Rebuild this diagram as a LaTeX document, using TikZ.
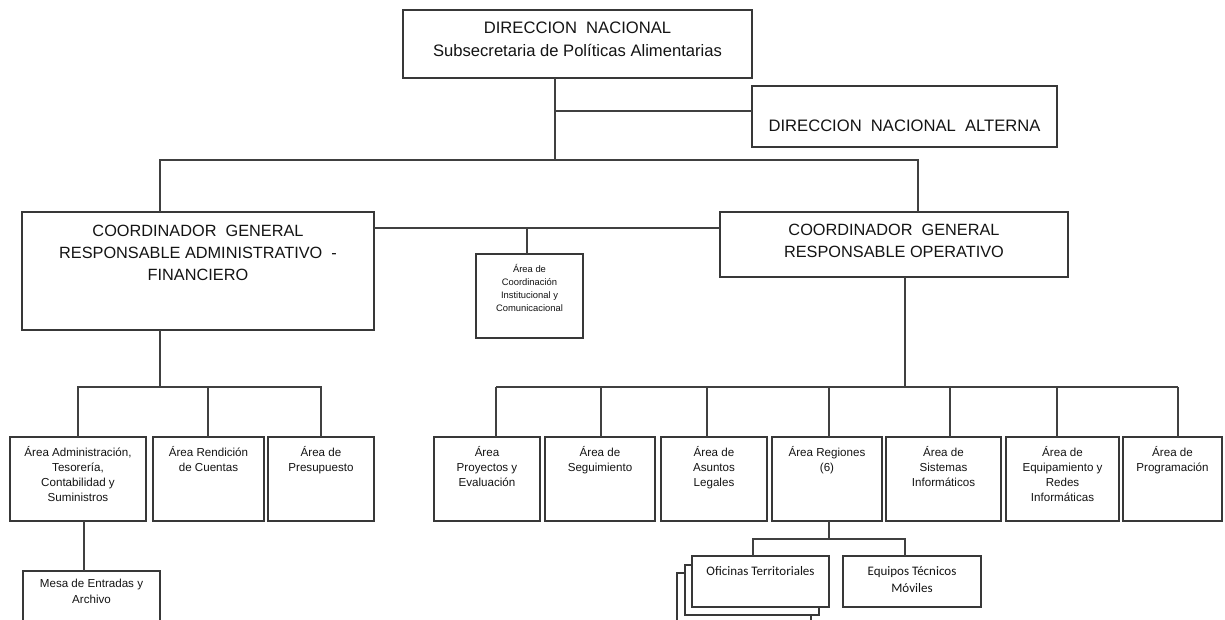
\documentclass[tikz,border=0pt]{standalone}
\usepackage{fontspec}
\setmainfont{Liberation Sans}
\newfontfamily\calib{Carlito}
\usetikzlibrary{calc}
\tikzset{
  orgbox/.style={draw=black!78, line width=1.4pt, fill=white, inner sep=0pt, outer sep=0pt, text=black!92},
  conn/.style={draw=black!75, line width=1.4pt}
}
% name, x1, y1, x2, y2, pad, font, text
\newcommand{\obox}[8]{%
  \node[orgbox, anchor=north west] (#1) at (#2,#3)
   {\parbox[c][\dimexpr#5pt-#3pt\relax][t]{\dimexpr#4pt-#2pt\relax}{\vspace*{#6pt}\centering #7\strut #8\par}};}
\newcommand{\fbig}{\fontsize{16.6}{23}\selectfont}
\newcommand{\fmid}{\fontsize{16.3}{22}\selectfont}
\newcommand{\fsmall}{\fontsize{11.6}{15}\selectfont}
\newcommand{\fmesa}{\fontsize{11.6}{16.5}\selectfont}
\newcommand{\ftiny}{\fontsize{9.4}{13}\selectfont}
\newcommand{\fcal}{\calib\fontsize{13}{17}\selectfont}
\begin{document}
\begin{tikzpicture}[x=1pt,y=-1pt]
\useasboundingbox (0,0) rectangle (1225,620);
\fill[white] (0,0) rectangle (1225,620);
\clip (0,0) rectangle (1225,620);

% top level
\obox{dn}{403}{10}{752}{78}{7.4}{\fbig}{DIRECCION\ \ NACIONAL\\ Subsecretaria de Políticas Alimentarias}
\obox{alt}{752}{86}{1057}{147}{29.4}{\fbig}{DIRECCION\ \ NACIONAL\ \ ALTERNA}

% coordinators
\obox{cga}{22}{212}{374}{330}{9.2}{\fmid}{COORDINADOR\ \ GENERAL\\ RESPONSABLE ADMINISTRATIVO\ \ -\\ FINANCIERO}
\obox{cgo}{720}{212}{1068}{277}{8.2}{\fmid}{COORDINADOR\ \ GENERAL\\ RESPONSABLE OPERATIVO}
\obox{acic}{476}{254}{583}{338}{9.6}{\ftiny}{Área de\\ Coordinación\\ Institucional y\\ Comunicacional}

% left areas
\obox{admin}{10}{437}{146}{521}{8.6}{\fsmall}{Área Administración,\\ Tesorería,\\ Contabilidad y\\ Suministros}
\obox{rend}{153}{437}{264}{521}{8.6}{\fsmall}{Área Rendición\\ de Cuentas}
\obox{pres}{268}{437}{374}{521}{8.6}{\fsmall}{Área de\\ Presupuesto}
\obox{mesa}{23}{571}{160}{640}{4.6}{\fmesa}{Mesa de Entradas y\\ Archivo}

% right areas
\obox{proy}{434}{437}{540}{521}{8.6}{\fsmall}{Área\\ Proyectos y\\ Evaluación}
\obox{seg}{545}{437}{655}{521}{8.6}{\fsmall}{Área de\\ Seguimiento}
\obox{asun}{661}{437}{767}{521}{8.6}{\fsmall}{Área de\\ Asuntos\\ Legales}
\obox{reg}{772}{437}{882}{521}{8.6}{\fsmall}{Área Regiones\\ (6)}
\obox{sist}{886}{437}{1001}{521}{8.6}{\fsmall}{Área de\\ Sistemas\\ Informáticos}
\obox{equi}{1006}{437}{1119}{521}{8.6}{\fsmall}{Área de\\ Equipamiento y\\ Redes\\ Informáticas}
\obox{prog}{1123}{437}{1222}{521}{8.6}{\fsmall}{Área de\\ Programación}

% regiones children
\obox{ofic}{677}{573}{811}{640}{0}{\fcal}{}
\obox{ofib}{685}{565}{819}{615}{0}{\fcal}{}
\obox{ofi}{692}{556}{829}{607}{7.6}{\fcal}{Oficinas Territoriales}
\obox{equ}{843}{556}{981}{607}{7.6}{\fcal}{Equipos Técnicos\\ Móviles}

% connectors: top
\coordinate (hub) at (555,160);
\coordinate (altj) at (555,111);
\draw[conn] (dn.south -| hub) -- (hub);
\draw[conn] (altj) -- (altj -| alt.west);
\coordinate (hl) at (160,160);
\coordinate (hr) at (918,160);
\draw[conn] (cga.north -| hl) -- (hl) -- (hr) -- (cgo.north -| hr);

% between coordinators
\coordinate (cj) at (527,228);
\draw[conn] (cj -| cga.east) -- (cj -| cgo.west);
\draw[conn] (cj) -- (acic.north -| cj);

% left bus
\coordinate (lb) at (160,387);
\draw[conn] (cga.south -| lb) -- (lb);
\draw[conn] (admin.north) -- (admin.north |- lb) -- (pres.north |- lb) -- (pres.north);
\coordinate (rbx) at (208,387);
\draw[conn] (rbx) -- (rend.north -| rbx);
\coordinate (am) at (84,530);
\draw[conn] (admin.south -| am) -- (mesa.north -| am);

% right bus
\coordinate (rb) at (905,387);
\draw[conn] (cgo.south -| rb) -- (rb);
\coordinate (p1) at (496,387);
\coordinate (p2) at (601,387);
\coordinate (p3) at (707,387);
\coordinate (p4) at (829,387);
\coordinate (p5) at (950,387);
\coordinate (p6) at (1057,387);
\coordinate (p7) at (1178,387);
\draw[conn] (p1) -- (p7);
\draw[conn] (p1) -- (proy.north -| p1);
\draw[conn] (p2) -- (seg.north -| p2);
\draw[conn] (p3) -- (asun.north -| p3);
\draw[conn] (p4) -- (reg.north -| p4);
\draw[conn] (p5) -- (sist.north -| p5);
\draw[conn] (p6) -- (equi.north -| p6);
\draw[conn] (p7) -- (prog.north -| p7);

% regiones
\coordinate (rj) at (829,539);
\coordinate (o1) at (753,539);
\coordinate (o2) at (905,539);
\draw[conn] (reg.south -| rj) -- (rj);
\draw[conn] (ofi.north -| o1) -- (o1) -- (o2) -- (equ.north -| o2);
\end{tikzpicture}
\end{document}
